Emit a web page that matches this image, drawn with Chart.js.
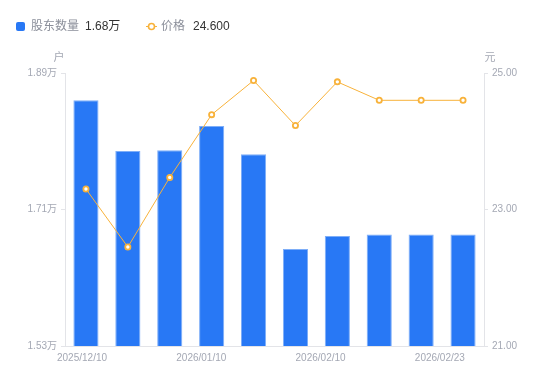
<!DOCTYPE html>
<html><head><meta charset="utf-8">
<script src="https://cdn.jsdelivr.net/npm/chart.js@4/dist/chart.umd.min.js"></script>
<style>
html,body{margin:0;padding:0;background:#fff;}
#wrap{position:relative;width:550px;height:381px;}
#legend{position:absolute;left:0;top:0;width:550px;height:50px;font-size:12px;font-family:"Liberation Sans","Noto Sans CJK SC",sans-serif;}
.item{position:absolute;top:17px;height:16px;line-height:16px;white-space:nowrap;}
.name{color:#8b8f9a;font-family:"Noto Sans CJK SC",sans-serif;}
.val{color:#333;margin-left:6px;}
.sq{display:inline-block;width:9px;height:9px;border-radius:2px;background:#2878f5;vertical-align:-1px;margin-right:6px;}
canvas{position:absolute;left:0;top:0;}
</style>
</head><body>
<div id="wrap">
<canvas id="c" width="550" height="381"></canvas>
<div id="legend"></div>
</div>
<script>
const categories = ['2025/12/10','2025/12/19','2025/12/31','2026/01/09','2026/01/20','2026/01/30','2026/02/06','2026/02/13','2026/02/20','2026/02/23'];
const holders = [1.854, 1.787, 1.788, 1.820, 1.783, 1.658, 1.675, 1.677, 1.677, 1.677];
const prices = [23.30, 22.45, 23.47, 24.39, 24.89, 24.23, 24.87, 24.60, 24.60, 24.60];
const xTickLabels = ['2025/12/10','2026/01/10','2026/02/10','2026/02/23'];
const leftTicks = [1.53, 1.71, 1.89];
const rightTicks = [21, 23, 25];
const seriesNames = ['股东数量','价格'];
const legendValues = ['1.68万','24.600'];
const axisTitles = ['户','元'];

const BLUE = '#2878f5', ORANGE = '#f8b23a', AXIS = '#e3e4e8', TXT = '#a4a8b4';

// legend (HTML text)
const lg = document.getElementById('legend');
lg.innerHTML =
  '<div class="item" style="left:16px"><span class="sq"></span><span class="name">'+seriesNames[0]+'</span><span class="val">'+legendValues[0]+'</span></div>' +
  '<div class="item" style="left:146px"><svg width="11" height="9" style="vertical-align:-1px;margin-right:4px"><line x1="0" y1="4.5" x2="11" y2="4.5" stroke="'+ORANGE+'" stroke-width="1"/><circle cx="5.5" cy="4.5" r="3" fill="#fff" stroke="'+ORANGE+'" stroke-width="1.6"/></svg><span class="name">'+seriesNames[1]+'</span><span class="val" style="margin-left:8px">'+legendValues[1]+'</span></div>';

const titlePlugin = {
  id: 'axisTitles',
  afterDraw(chart) {
    const ctx = chart.ctx, a = chart.chartArea;
    ctx.save();
    ctx.font = '11px "Noto Sans CJK SC", sans-serif';
    ctx.fillStyle = TXT;
    ctx.textAlign = 'center';
    ctx.textBaseline = 'middle';
    ctx.fillText(axisTitles[0], a.left - 6, 57);
    ctx.fillText(axisTitles[1], a.right + 6, 57);
    ctx.restore();
  }
};

const tickFont = {size: 10, family: '"Liberation Sans", "Noto Sans CJK SC", sans-serif'};

new Chart(document.getElementById('c'), {
  data: {
    labels: categories,
    datasets: [
      {type: 'line', label: seriesNames[1], data: prices, yAxisID: 'y1', xAxisID: 'x',
       borderColor: ORANGE, borderWidth: 1, pointRadius: 2.6, pointBorderWidth: 1.8,
       pointBackgroundColor: '#fff', pointBorderColor: ORANGE, tension: 0, order: 0},
      {type: 'bar', label: seriesNames[0], data: holders, yAxisID: 'y', xAxisID: 'x',
       backgroundColor: BLUE, borderColor: '#7eaef8', borderWidth: {top:1,left:1,right:1,bottom:0},
       barPercentage: 0.6, categoryPercentage: 1.0, order: 1}
    ]
  },
  options: {
    responsive: false,
    devicePixelRatio: 1,
    animation: false,
    layout: {padding: {left: 0, right: 0, top: 73, bottom: 0}},
    plugins: {legend: {display: false}, tooltip: {enabled: false}},
    scales: {
      x: {
        type: 'category', position: 'bottom', offset: true,
        grid: {display: false, drawTicks: false},
        border: {display: true, color: AXIS, width: 1},
        ticks: {display: false},
        afterFit(s) { s.height = 0; }
      },
      x2: {
        type: 'linear', position: 'bottom', min: -0.1426, max: 3.370,
        grid: {display: false, drawTicks: false},
        border: {display: false},
        afterBuildTicks(s) { s.ticks = xTickLabels.map((_, i) => ({value: i})); },
        ticks: {color: TXT, font: tickFont, padding: 6, maxRotation: 0, autoSkip: false,
                callback: (v) => xTickLabels[v] !== undefined ? xTickLabels[v] : ''},
        afterFit(s) { s.height = 35; }
      },
      y: {
        type: 'linear', position: 'left', min: leftTicks[0], max: leftTicks[leftTicks.length-1],
        grid: {display: true, drawOnChartArea: false, drawTicks: true, tickLength: 4, color: AXIS},
        border: {display: true, color: AXIS, width: 1},
        afterBuildTicks(s) { s.ticks = leftTicks.map(v => ({value: v})); },
        ticks: {color: TXT, font: tickFont, padding: 4, callback: v => v.toFixed(2) + '万'},
        afterFit(s) { s.width = 65; }
      },
      y1: {
        type: 'linear', position: 'right', min: rightTicks[0], max: rightTicks[rightTicks.length-1],
        grid: {display: true, drawOnChartArea: false, drawTicks: true, tickLength: 4, color: AXIS},
        border: {display: true, color: AXIS, width: 1},
        afterBuildTicks(s) { s.ticks = rightTicks.map(v => ({value: v})); },
        ticks: {color: TXT, font: tickFont, padding: 4, callback: v => v.toFixed(2)},
        afterFit(s) { s.width = 66; }
      }
    }
  },
  plugins: [titlePlugin]
});
</script>
</body></html>
